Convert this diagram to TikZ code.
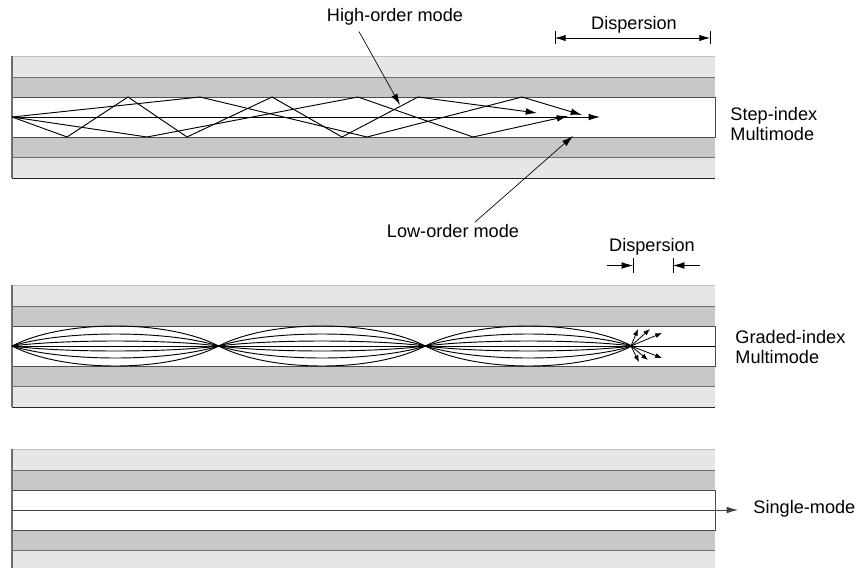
\documentclass[tikz,border=0pt]{standalone}
\usepackage{fontspec}
\usepackage{xcolor}
\usepackage{tikz}
\usetikzlibrary{arrows.meta}
\setsansfont{Liberation Sans}
\definecolor{jacketGray}{RGB}{230,230,230}
\definecolor{cladGray}{RGB}{200,200,200}
\definecolor{edgeGray}{RGB}{110,110,110}

% one fibre drawn around its axis, #1 = height of the axis
\newcommand{\fiberbody}[1]{%
  \fill[jacketGray] (12,#1-61) rectangle (715,#1+61);
  \fill[cladGray] (12,#1-40) rectangle (715,#1+40);
  \fill[white] (12,#1-20) rectangle (715,#1+20);
  \draw[black!25] (12,#1-61) -- (715,#1-61);
  \draw[edgeGray] (12,#1-40) -- (715,#1-40) (12,#1+40) -- (715,#1+40);
  \draw[black!70] (12,#1-20) -- (715,#1-20) -- (715,#1+20) -- (12,#1+20);
  \draw[black!85] (12,#1+61) -- (715,#1+61);
  \draw[edgeGray, line width=1pt] (12,#1-61) -- (12,#1+61);
}

\begin{document}
\begin{tikzpicture}[x=0.75pt, y=-0.75pt, font=\sffamily\fontsize{13.6}{15}\selectfont,
    line width=0.7pt,
    tip/.style={-{Latex[length=8.5pt,width=5pt]}},
    smalltip/.style={-{Latex[length=5pt,width=3.8pt]}, line width=0.6pt},
    span/.style={{Latex[length=8pt,width=4.8pt]}-{Latex[length=8pt,width=4.8pt]}, line width=0.5pt}]
  \useasboundingbox (0,0) rectangle (866,567);

  % Step-index multimode
  \fiberbody{117}
  \draw[tip] (12,117) -- (67,137) -- (128,97) -- (187,137) -- (272,97) -- (342,137) -- (418,97) -- (537,113);
  \draw[tip] (12,117) -- (200,97) -- (367,137) -- (522,97) -- (582,115);
  \draw[tip] (12,117) -- (147,137) -- (358,97) -- (473,137) -- (568,116);
  \draw[tip] (12,117) -- (600,117);

  \node[anchor=base, inner sep=1pt] (highMode) at (395,22) {High-order mode};
  \coordinate (highTip) at (400,105);
  \draw[tip, line width=0.5pt] ([xshift=-27pt,yshift=-3pt]highMode.south) -- (highTip);

  \node[anchor=base, inner sep=1pt] (lowMode) at (453,237) {Low-order mode};
  \coordinate (lowTip) at (573,136);
  \draw[tip, line width=0.5pt] ([xshift=16.5pt]lowMode.north) -- (lowTip);

  % dispersion of the step-index fibre
  \node[anchor=base] (dispStep) at (634,30) {Dispersion};
  \draw[line width=0.5pt] (555,31) -- (555,44) (710,31) -- (710,44);
  \draw[span] (555,38) -- (710,38);

  \node[anchor=west, align=left, inner sep=0] (stepLabel) at (730,124) {Step-index\\Multimode};

  % Graded-index multimode
  \fiberbody{346}
  \foreach \xa/\xb in {12/218.7, 218.7/425.3, 425.3/632}{
    \foreach \a in {20,12,5}{
      \draw ({\xa},346) .. controls ({\xa+51.7},{346-1.333*\a}) and ({\xb-51.7},{346-1.333*\a}) .. ({\xb},346);
      \draw ({\xa},346) .. controls ({\xa+51.7},{346+1.333*\a}) and ({\xb-51.7},{346+1.333*\a}) .. ({\xb},346);
    }
  }
  \draw (12,346) -- (715,346);
  \foreach \tx/\ty in {638/329, 650/329, 662/333, 639/362, 648/360, 662/358}
    \draw[smalltip] (631,346) -- (\tx,\ty);

  % dispersion of the graded-index fibre
  \node[anchor=base] (dispGraded) at (652,251) {Dispersion};
  \draw[line width=0.5pt] (633,258) -- (633,273) (673,258) -- (673,273);
  \draw[tip, line width=0.5pt] (607,265.5) -- (633,265.5);
  \draw[tip, line width=0.5pt] (700,265.5) -- (673,265.5);

  \node[anchor=west, align=left, inner sep=0] (gradedLabel) at (735,347) {Graded-index\\Multimode};

  % Single-mode
  \fiberbody{510}
  \draw[tip, black!75] (12,510) -- (738,510);
  \node[anchor=base west, inner sep=0] (singleLabel) at (753,513) {Single-mode};
\end{tikzpicture}
\end{document}
